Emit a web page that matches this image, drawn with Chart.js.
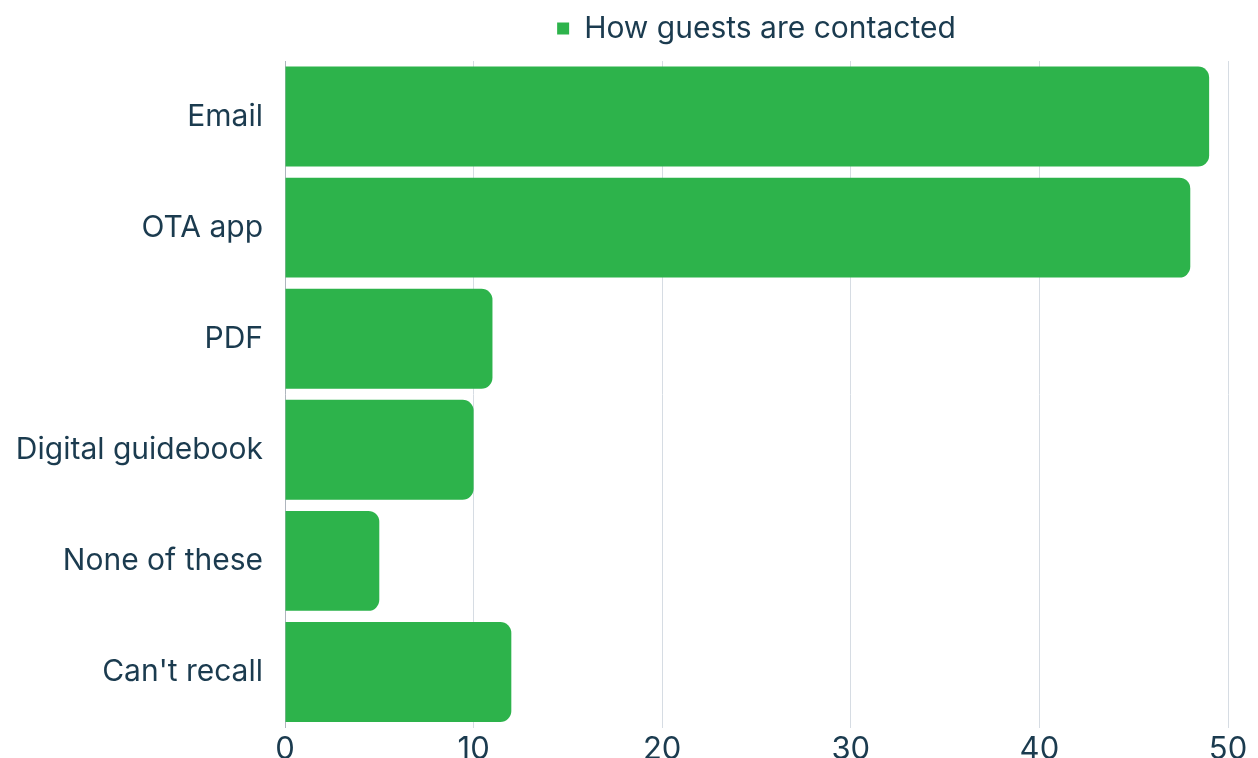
<!DOCTYPE html>
<html>
<head>
<meta charset="utf-8">
<script src="https://cdn.jsdelivr.net/npm/chart.js@4"></script>
<style>
  html, body { margin: 0; padding: 0; background: #fff; overflow: hidden; }
  #wrap { width: 1258px; height: 772px; position: relative; }
</style>
</head>
<body>
<div id="wrap">
  <canvas id="chart"></canvas>
</div>
<script>
  var categories = ['Email', 'OTA app', 'PDF', 'Digital guidebook', 'None of these', "Can't recall"];
  var contacted = [49, 48, 11, 10, 5, 12];
  var xTicks = [0, 10, 20, 30, 40, 50];

  var ink = '#1b3b4f';
  var green = '#2db34b';
  var fontFamily = 'Inter, "Open Sans", sans-serif';

  // extra space between the legend row and the bars
  var legendGap = {
      id: 'legendGap',
      beforeInit: function(chart) {
          var legend = chart.legend;
          if (!legend) return;
          var fit = legend.fit;
          legend.fit = function() {
              fit.call(this);
              this.height += 7.5;
          };
      }
  };

  var data = {
      labels: categories,
      datasets: [{
          label: 'How guests are contacted',
          data: contacted,
          backgroundColor: green,
          borderWidth: 0,
          borderRadius: { topLeft: 0, bottomLeft: 0, topRight: 11, bottomRight: 11 },
          borderSkipped: false,
          barPercentage: 0.9,
          categoryPercentage: 1
      }]
  };

  var config = {
      type: 'bar',
      data: data,
      plugins: [legendGap],
      options: {
          indexAxis: 'y',
          responsive: true,
          maintainAspectRatio: false,
          animation: false,
          layout: { padding: { top: -5, right: 30, left: 0, bottom: 0 } },
          plugins: {
              legend: {
                  position: 'top',
                  fullSize: false,
                  labels: {
                      color: ink,
                      font: { family: fontFamily, size: 30 },
                      boxWidth: 12,
                      boxHeight: 12,
                      padding: 18.5
                  }
              },
              tooltip: { enabled: false }
          },
          scales: {
              x: {
                  min: 0,
                  max: 50,
                  afterBuildTicks: function(scale) {
                      scale.ticks = xTicks.map(function(v) { return { value: v }; });
                  },
                  afterFit: function(scale) { scale.height = 44.5; },
                  grid: { color: '#d6dce3', lineWidth: 1, drawTicks: false },
                  border: { display: false },
                  ticks: {
                      color: ink,
                      padding: 4,
                      font: { family: fontFamily, size: 31 }
                  }
              },
              y: {
                  afterFit: function(scale) { scale.width = 285; },
                  grid: { display: false },
                  border: { display: true, color: '#aeb5bd', width: 1 },
                  ticks: {
                      color: ink,
                      padding: 14,
                      font: { family: fontFamily, size: 30 }
                  }
              }
          }
      }
  };

  var guestChart = new Chart(document.getElementById('chart'), config);
</script>
</body>
</html>
